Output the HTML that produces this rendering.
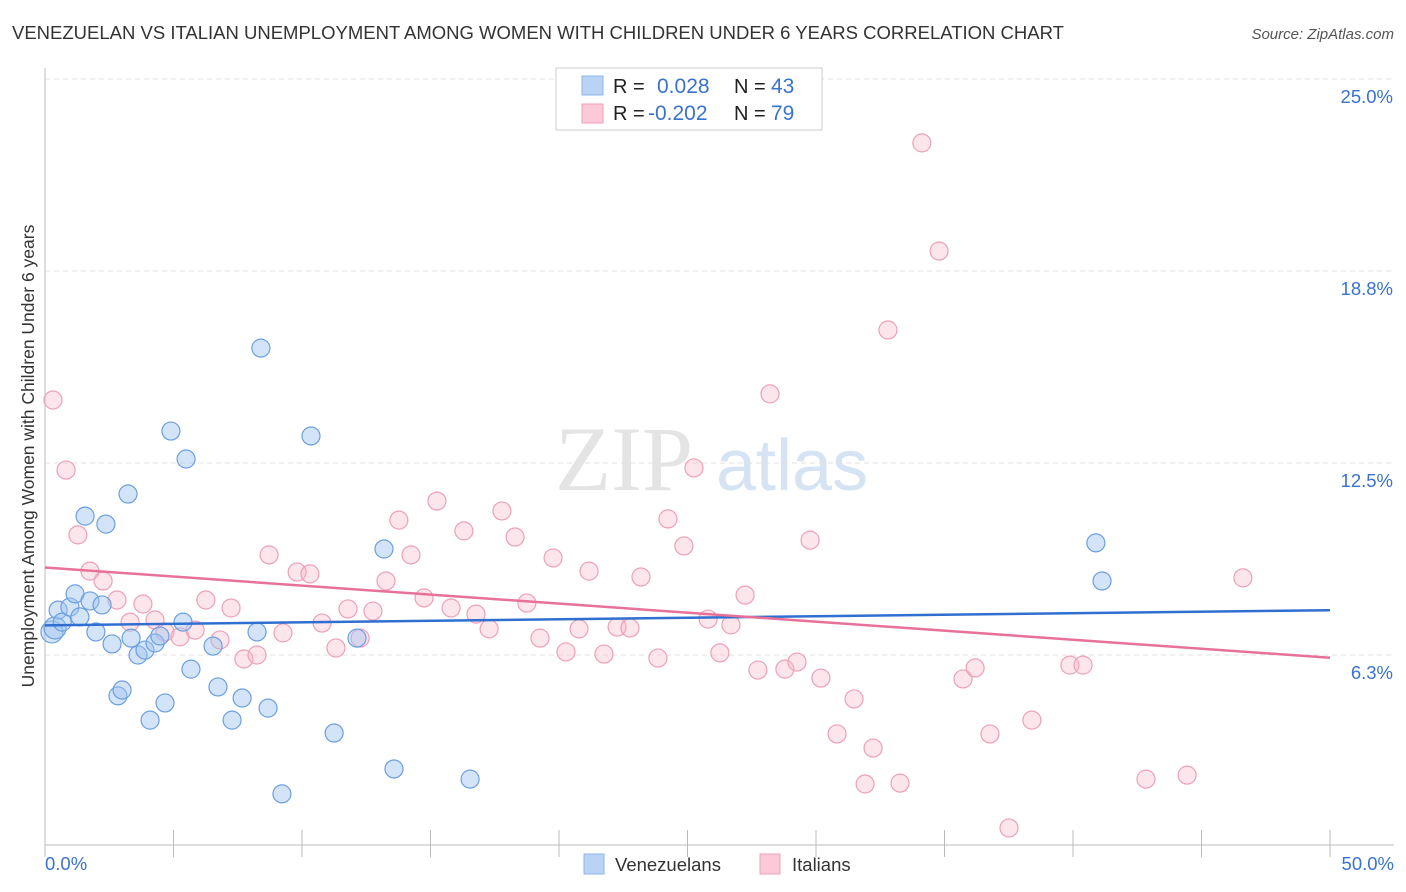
<!DOCTYPE html>
<html><head><meta charset="utf-8">
<style>
body{margin:0;background:#fff;font-family:"Liberation Sans",sans-serif;}
svg{display:block}
</style></head>
<body>
<svg id="chart" width="1406" height="892">
  <text x="12" y="39" font-size="18.5" fill="#333">VENEZUELAN VS ITALIAN UNEMPLOYMENT AMONG WOMEN WITH CHILDREN UNDER 6 YEARS CORRELATION CHART</text>
  <text x="1394" y="39" font-size="15" fill="#555" font-style="italic" text-anchor="end">Source: ZipAtlas.com</text>
  <g>
    <text x="555" y="490" font-size="92" fill="#e4e4e4" font-family="Liberation Serif,serif">ZIP</text>
    <text x="716" y="490" font-size="72" fill="#d6e3f3">atlas</text>
  </g>
  <g id="grid"></g>
  <g id="axes"></g>
  <g id="pts"></g>
  <g id="trends"></g>
  <text transform="translate(34,456) rotate(-90)" font-size="17.5" fill="#333" text-anchor="middle">Unemployment Among Women with Children Under 6 years</text>
  <g>
    <rect x="556" y="68" width="266" height="62" fill="#fff" stroke="#ccc"/>
    <rect x="582" y="76" width="21" height="19" fill="#b9d3f5" stroke="#8fb5e8"/>
    <rect x="582" y="104" width="21" height="19" fill="#fcc9d8" stroke="#f0a0b8"/>
    <text x="613" y="93" font-size="20" fill="#222">R =</text>
    <text x="657" y="93" font-size="21" fill="#3a72d0">0.028</text>
    <text x="734" y="93" font-size="20" fill="#222">N =</text>
    <text x="771" y="93" font-size="21" fill="#3a72d0">43</text>
    <text x="613" y="120" font-size="20" fill="#222">R =</text>
    <text x="648" y="120" font-size="21" fill="#3a72d0">-0.202</text>
    <text x="734" y="120" font-size="20" fill="#222">N =</text>
    <text x="771" y="120" font-size="21" fill="#3a72d0">79</text>
  </g>
  <g>
    <rect x="584" y="854" width="20" height="20" fill="#b9d3f5" stroke="#8fb5e8"/>
    <text x="615" y="871" font-size="18.5" fill="#333">Venezuelans</text>
    <rect x="760" y="854" width="20" height="20" fill="#fcc9d8" stroke="#f0a0b8"/>
    <text x="792" y="871" font-size="18.5" fill="#333">Italians</text>
  </g>
  <text x="45" y="870" font-size="18.5" fill="#3a72d0">0.0%</text>
  <text x="1394" y="870" font-size="18.5" fill="#3a72d0" text-anchor="end">50.0%</text>
</svg>
<script>
const yTicks=[6.25,12.5,18.75,25];
const yTickLabels=["6.3%","12.5%","18.8%","25.0%"];
const xTicks=[0,5,10,15,20,25,30,35,40,45,50];
const venX=[0.27,0.39,0.51,0.67,0.97,1.17,1.36,1.56,1.75,1.98,2.22,2.37,2.61,2.84,3.0,3.23,3.35,3.62,3.89,4.09,4.28,4.47,4.67,4.90,5.37,5.49,5.68,6.54,6.73,7.28,7.67,8.25,8.40,8.68,9.22,10.35,11.25,12.14,13.19,13.58,16.54,40.89,41.13];
const venY=[7.0,7.13,7.71,7.32,7.81,8.24,7.49,10.77,8.01,7.0,7.88,10.51,6.61,4.92,5.11,11.49,6.80,6.25,6.41,4.13,6.64,6.87,4.69,13.54,7.32,12.63,5.79,6.54,5.21,4.13,4.85,7.0,16.24,4.52,1.73,13.38,3.71,6.80,9.70,2.54,2.21,9.90,8.66];
const itaX=[0.31,0.82,1.28,1.75,2.26,2.80,3.31,3.81,4.28,4.67,5.25,5.84,6.26,6.81,7.24,7.74,8.25,8.72,9.26,9.81,10.31,10.78,11.32,11.79,12.26,12.76,13.27,13.77,14.24,14.75,15.25,15.80,16.30,16.77,17.28,17.78,18.29,18.75,19.26,19.77,20.27,20.78,21.17,21.75,22.26,22.76,23.19,23.85,24.24,24.86,25.25,25.80,26.26,26.69,27.24,27.74,28.21,28.79,29.26,29.77,30.19,30.82,31.48,31.91,32.22,32.80,33.27,34.12,34.79,35.72,36.19,36.77,37.51,38.40,39.88,40.39,42.84,44.44,46.61];
const itaY=[14.55,12.27,10.16,8.98,8.66,8.04,7.32,7.91,7.39,7.0,6.84,7.06,8.04,6.74,7.78,6.12,6.25,9.51,6.97,8.95,8.89,7.29,6.48,7.75,6.80,7.68,8.66,10.64,9.51,8.11,11.26,7.78,10.29,7.58,7.10,10.94,10.09,7.94,6.80,9.41,6.35,7.10,8.98,6.28,7.16,7.13,8.79,6.15,10.68,9.80,12.34,7.42,6.32,7.23,8.20,5.76,14.75,5.79,6.02,9.99,5.50,3.68,4.82,2.05,3.22,16.83,2.08,22.92,19.40,5.47,5.83,3.68,0.62,4.13,5.92,5.92,2.21,2.34,8.76];

const NS='http://www.w3.org/2000/svg';
const X0=45,X1=1330,Y0=847,PY=30.72;
const sx=v=>X0+(X1-X0)*v/50;
const sy=v=>Y0-v*PY;
function mk(tag,attrs,parent){const e=document.createElementNS(NS,tag);for(const k in attrs)e.setAttribute(k,attrs[k]);parent.appendChild(e);return e;}
const grid=document.getElementById('grid'),axes=document.getElementById('axes'),pts=document.getElementById('pts'),tr=document.getElementById('trends');
yTicks.forEach((t,i)=>{
  const l=mk('line',{x1:X0,x2:1394,y1:sy(t),y2:sy(t),stroke:'#e2e2e2','stroke-dasharray':'5,4'},grid);
  
  
  const tx=mk('text',{x:1393,y:sy(t)+24,'font-size':18.5,fill:'#3a72d0','text-anchor':'end'},grid);
  tx.textContent=yTickLabels[i];
  
  
});
const al=mk('line',{x1:X0,x2:X0,y1:68,y2:845,stroke:'#bbb'},axes);


const bl=mk('line',{x1:X0,x2:1394,y1:845,y2:845,stroke:'#bbb'},axes);


xTicks.forEach(t=>{
  const l=mk('line',{x1:sx(t),x2:sx(t),y1:830,y2:857,stroke:'#bbb'},axes);
  
  
});
function drawPts(xs,ys,fill,stroke,name){
  xs.forEach((x,i)=>{
    const r=(i<2&&name==='venezuelan-point')?11:9;
    const c=mk('circle',{cx:sx(x),cy:sy(ys[i]),r:r,fill:fill,stroke:stroke,'stroke-width':1.2},pts);
    
    
  });
}
drawPts(itaX,itaY,'rgba(248,180,200,0.35)','#eda0b8','italian-point');
drawPts(venX,venY,'rgba(160,195,240,0.45)','#6b9fe0','venezuelan-point');
function reg(xs,ys){const n=xs.length;let mx=0,my=0;xs.forEach((x,i)=>{mx+=x;my+=ys[i];});mx/=n;my/=n;let sxy=0,sxx=0;xs.forEach((x,i)=>{sxy+=(x-mx)*(ys[i]-my);sxx+=(x-mx)*(x-mx);});const b=sxy/sxx;return [my-b*mx,b];}
function drawTrend(xs,ys,color,name){
  const [a,b]=reg(xs,ys);
  const l=mk('line',{x1:sx(0),y1:sy(a),x2:sx(50),y2:sy(a+b*50),stroke:color,'stroke-width':2.5},tr);
  
  
}
drawTrend(venX,venY,'#2f6fd0','venezuelan-trend-line');
drawTrend(itaX,itaY,'#e8719a','italian-trend-line');
</script>
</body></html>
